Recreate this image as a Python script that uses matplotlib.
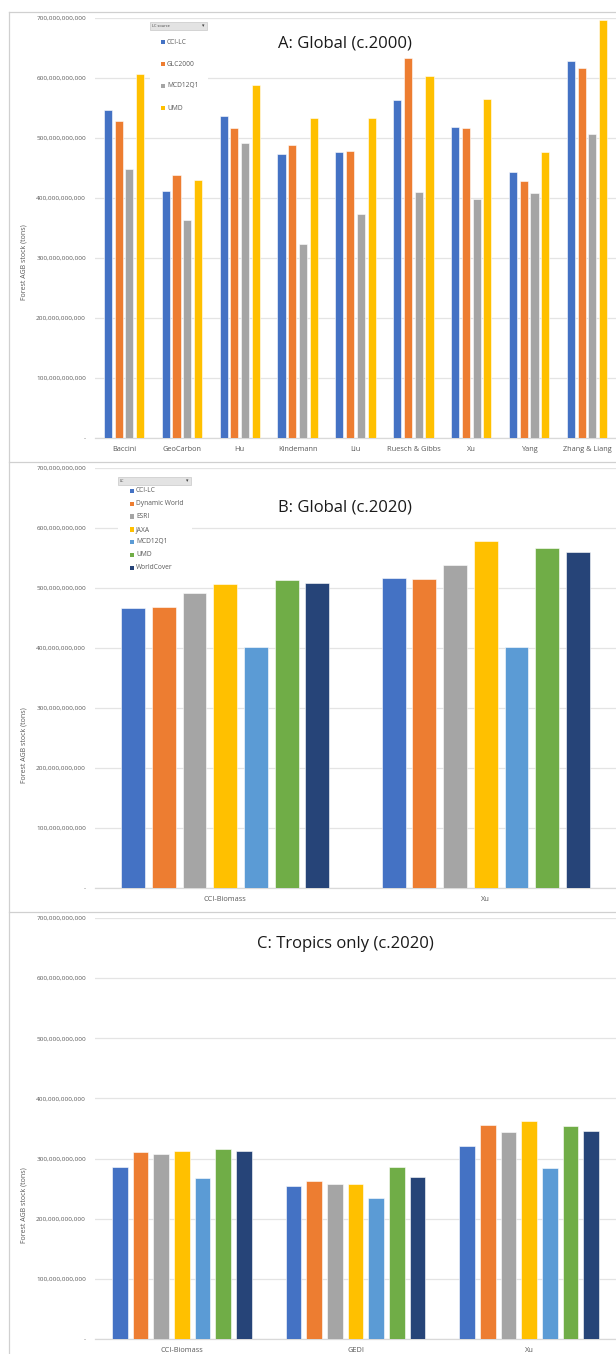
import numpy as np
import matplotlib.pyplot as plt
from matplotlib.patches import Rectangle
from matplotlib.lines import Line2D
from matplotlib.ticker import FuncFormatter

plt.rcParams['font.family'] = ['Open Sans', 'DejaVu Sans']

# ---------------------------------------------------------
# Data (billions of tons)
# ---------------------------------------------------------
a_cats = ['Baccini', 'GeoCarbon', 'Hu', 'Kindemann', 'Liu',
          'Ruesch & Gibbs', 'Xu', 'Yang', 'Zhang & Liang']
a_series = ['CCI-LC', 'GLC2000', 'MCD12Q1', 'UMD']
a_cci = [547, 412, 536, 473, 477, 564, 518, 443, 628]
a_glc = [528, 438, 516, 488, 478, 633, 516, 429, 616]
a_mcd = [449, 364, 491, 324, 374, 410, 399, 408, 507]
a_umd = [606, 430, 588, 533, 533, 603, 565, 476, 697]

b_cats = ['CCI-Biomass', 'Xu']
b_series = ['CCI-LC', 'Dynamic World', 'ESRI', 'JAXA', 'MCD12Q1', 'UMD', 'WorldCover']
b_cci = [466, 517]
b_dw = [468, 515]
b_esri = [492, 539]
b_jaxa = [506, 579]
b_mcd = [401, 402]
b_umd = [514, 567]
b_wc = [508, 560]

c_cats = ['CCI-Biomass', 'GEDI', 'Xu']
c_cci = [286, 255, 321]
c_dw = [311, 262, 355]
c_esri = [307, 257, 344]
c_jaxa = [313, 257, 362]
c_mcd = [268, 235, 284]
c_umd = [316, 286, 354]
c_wc = [313, 270, 346]

# Excel office palette
blue, orange, gray, gold = '#4472C4', '#ED7D31', '#A5A5A5', '#FFC000'
lblue, green, navy = '#5B9BD5', '#70AD47', '#264478'
a_colors = [blue, orange, gray, gold]
bc_colors = [blue, orange, gray, gold, lblue, green, navy]

W, H = 616, 1354
fig = plt.figure(figsize=(W / 100, H / 100), dpi=100)


def px_axes(left, top, right, bottom):
    return fig.add_axes([left / W, 1 - bottom / H, (right - left) / W, (bottom - top) / H])


def style_axis(ax, cats):
    ax.set_ylim(0, 700e9)
    ax.set_yticks(np.arange(0, 701e9, 100e9))
    ax.yaxis.set_major_formatter(FuncFormatter(lambda v, p: '-' if v == 0 else f'{v:,.0f}'))
    ax.set_xlim(-0.5, len(cats) - 0.5)
    ax.set_xticks(range(len(cats)))
    ax.set_xticklabels(cats)
    ax.tick_params(axis='y', length=0, labelsize=4.6, labelcolor='#595959', pad=6.5)
    ax.tick_params(axis='x', length=0, labelsize=5.3, labelcolor='#595959', pad=6)
    for s in ['top', 'right', 'left']:
        ax.spines[s].set_visible(False)
    ax.spines['bottom'].set_color('#d9d9d9')
    ax.spines['bottom'].set_linewidth(0.9)
    ax.grid(axis='y', color='#e4e4e4', linewidth=0.9)
    ax.set_axisbelow(True)


def draw_bars(ax, data, colors, pitch, width):
    n = len(data)
    x = np.arange(len(data[0]))
    for i, (vals, col) in enumerate(zip(data, colors)):
        off = (i - (n - 1) / 2) * pitch
        ax.bar(x + off, np.array(vals) * 1e9, width=width, color=col,
               edgecolor='white', linewidth=0.4, zorder=3)


def legend(names, colors, box, title, x_mark, ys, bg):
    # white background that interrupts the gridlines
    fig.patches.append(Rectangle((bg[0] / W, 1 - bg[3] / H), (bg[2] - bg[0]) / W,
                                 (bg[3] - bg[1]) / H, transform=fig.transFigure,
                                 facecolor='white', edgecolor='none', zorder=2))
    # dropdown field button
    fig.patches.append(Rectangle((box[0] / W, 1 - box[3] / H), (box[2] - box[0]) / W,
                                 (box[3] - box[1]) / H, transform=fig.transFigure,
                                 facecolor='#e3e3e3', edgecolor='#c8c8c8', linewidth=0.5, zorder=3))
    fig.text((box[0] + 2) / W, 1 - (box[1] + box[3]) / 2 / H, title, fontsize=2.8,
             color='#404040', va='center', ha='left', zorder=4)
    fig.text((box[2] - 4) / W, 1 - (box[1] + box[3]) / 2 / H, '▾', fontsize=3.5,
             color='#404040', va='center', ha='center', zorder=4,
             family=['DejaVu Sans'])
    for name, col, y in zip(names, colors, ys):
        fig.patches.append(Rectangle(((x_mark - 2.2) / W, 1 - (y + 2.2) / H), 4.4 / W, 4.4 / H,
                                     transform=fig.transFigure, facecolor=col,
                                     edgecolor='none', zorder=3))
        fig.text((x_mark + 4) / W, 1 - y / H, name, fontsize=4.8, color='#595959',
                 va='center', ha='left', zorder=4)


# ---------------------------------------------------------
# Panel A
# ---------------------------------------------------------
axA = px_axes(95, 18, 616, 438)
style_axis(axA, a_cats)
draw_bars(axA, [a_cci, a_glc, a_mcd, a_umd], a_colors, 0.185, 0.14)
fig.text(345 / W, 1 - 44 / H, 'A: Global (c.2000)', fontsize=12, ha='center', va='center',
         color='#1a1a1a')
fig.text(24 / W, 1 - 262 / H, 'Forest AGB stock (tons)', rotation=90, fontsize=5,
         color='#595959', ha='center', va='center')
legend(a_series, a_colors, (150, 22, 207, 30), 'LC source', 163,
       [42, 64, 86, 108], (150, 32, 208, 118))

# ---------------------------------------------------------
# Panel B
# ---------------------------------------------------------
axB = px_axes(95, 468, 616, 888)
style_axis(axB, b_cats)
draw_bars(axB, [b_cci, b_dw, b_esri, b_jaxa, b_mcd, b_umd, b_wc], bc_colors, 0.118, 0.092)
fig.text(345 / W, 1 - 508 / H, 'B: Global (c.2020)', fontsize=12, ha='center', va='center',
         color='#1a1a1a')
fig.text(24 / W, 1 - 745 / H, 'Forest AGB stock (tons)', rotation=90, fontsize=5,
         color='#595959', ha='center', va='center')
legend(b_series, bc_colors, (118, 477, 191, 485), 'LC', 132,
       [491, 503.7, 516.3, 529.3, 542, 555, 567.7], (118, 486, 192, 573))

# ---------------------------------------------------------
# Panel C
# ---------------------------------------------------------
axC = px_axes(95, 918, 616, 1339)
style_axis(axC, c_cats)
draw_bars(axC, [c_cci, c_dw, c_esri, c_jaxa, c_mcd, c_umd, c_wc], bc_colors, 0.119, 0.092)
fig.text(345 / W, 1 - 944 / H, 'C: Tropics only (c.2020)', fontsize=12, ha='center',
         va='center', color='#1a1a1a')
fig.text(24 / W, 1 - 1205 / H, 'Forest AGB stock (tons)', rotation=90, fontsize=5,
         color='#595959', ha='center', va='center')

# panel frames
for y in [12, 462, 912]:
    fig.add_artist(Line2D([9 / W, 1], [1 - y / H, 1 - y / H], transform=fig.transFigure,
                          color='#d0d0d0', linewidth=0.9))
fig.add_artist(Line2D([9 / W, 9 / W], [1 - 12 / H, 0], transform=fig.transFigure,
                      color='#d0d0d0', linewidth=0.9))

fig.savefig('out.png', dpi=100, facecolor='white')
